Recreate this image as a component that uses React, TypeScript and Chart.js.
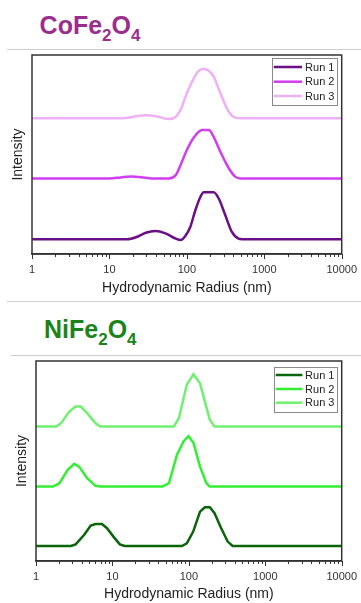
import React, { useEffect, useRef } from "react";
import { Chart, registerables } from "chart.js";

Chart.register(...registerables);

const FONT = "'Liberation Sans', Arial, Helvetica, sans-serif";

// ---- shared axis data ----
const runLabels = ["Run 1", "Run 2", "Run 3"];
const xTickLabels = [1, 10, 100, 1000, 10000];
const xTickValues = [
  1, 2, 3, 4, 5, 6, 7, 8, 9,
  10, 20, 30, 40, 50, 60, 70, 80, 90,
  100, 200, 300, 400, 500, 600, 700, 800, 900,
  1000, 2000, 3000, 4000, 5000, 6000, 7000, 8000, 9000,
  10000,
];

// ---- CoFe2O4 ----
const coColors = ["#6b0f85", "#d23cf2", "#efb0f7"];
const coRun1Radius = [1, 17, 22, 29.5, 39, 53, 72, 83, 96, 111, 129, 150, 165, 222, 257, 313, 380, 464, 520, 10000];
const coRun1Intensity = [7.4, 7.4, 8.4, 10.7, 11.6, 10.4, 7.7, 7.0, 9.2, 13.7, 22.1, 28.8, 31.0, 31.0, 28.0, 19.6, 11.2, 7.7, 7.4, 7.4];
const coRun2Radius = [1, 10, 14, 19, 26, 35, 59, 72, 83, 100, 123, 157, 192, 222, 271, 348, 421, 490, 10000];
const coRun2Intensity = [38.0, 38.0, 38.5, 38.9, 38.6, 38.0, 38.0, 39.7, 44.7, 52.3, 58.6, 62.3, 62.3, 58.9, 51.4, 43.1, 38.9, 38.0, 38.0];
const coRun3Radius = [1, 15, 20, 29.5, 40, 59, 72, 83, 100, 123, 143, 165, 192, 222, 271, 348, 421, 490, 10000];
const coRun3Intensity = [68.2, 68.2, 68.9, 69.7, 69.2, 67.8, 69.0, 72.4, 80.8, 88.3, 92.1, 93.0, 92.1, 89.1, 80.8, 71.5, 68.5, 68.2, 68.2];

// ---- NiFe2O4 ----
const niColors = ["#0a640a", "#33ee33", "#70f070"];
const niRun1Radius = [1, 2.87, 3.3, 4.25, 5.2, 6.0, 7.3, 8.5, 10.3, 12.5, 14.5, 81, 94, 114, 140, 162, 188, 217, 265, 322, 374, 10000];
const niRun1Intensity = [7.5, 7.5, 8.3, 13, 17.7, 18.5, 18.5, 16.4, 12.2, 8.3, 7.5, 7.5, 8.8, 14.7, 24.7, 26.9, 26.9, 23.9, 16.4, 9.7, 7.5, 7.5];
const niRun2Radius = [1, 1.67, 2.03, 2.6, 3.16, 3.66, 4.68, 6.0, 6.95, 45, 55, 70, 85.5, 99, 115, 140, 170, 187, 10000];
const niRun2Intensity = [37.2, 37.2, 38.9, 45.6, 48.6, 47.2, 41.4, 37.6, 37.2, 37.2, 38.9, 53.2, 59.9, 62.4, 59.1, 47.2, 38.9, 37.2, 37.2];
const niRun3Radius = [1, 1.84, 2.13, 2.73, 3.3, 3.85, 4.68, 6.0, 6.95, 63.6, 74, 94, 115, 140, 162, 188, 217, 10000];
const niRun3Intensity = [67.2, 67.2, 68.9, 74.7, 77.2, 77.2, 73.9, 68.9, 67.2, 67.2, 71.4, 88.1, 93.4, 88.9, 79.7, 70.7, 67.2, 67.2];

const toPoints = (xs: number[], ys: number[]) => xs.map((x, i) => ({ x, y: ys[i] }));

type LegendGeom = {
  boxLeft: number; boxRight: number; boxTop: number; boxBottom: number;
  rows: number[]; lineStart: number; lineEnd: number; textX: number;
};

function makeBoxPlugin() {
  return {
    id: "plotBox",
    afterDraw(chart: any) {
      const { ctx, chartArea: a } = chart;
      const xs = chart.scales.x;
      ctx.save();
      // tick marks below the axis, positioned by the log scale
      ctx.strokeStyle = "#333333";
      ctx.lineWidth = 1;
      xTickValues.forEach((v) => {
        const px = Math.round(xs.getPixelForValue(v)) + 0.5;
        const len = xTickLabels.includes(v) ? 5 : 3;
        ctx.beginPath();
        ctx.moveTo(px, a.bottom);
        ctx.lineTo(px, a.bottom + len);
        ctx.stroke();
      });
      ctx.lineWidth = 1.5;
      ctx.strokeRect(a.left, a.top, a.right - a.left, a.bottom - a.top);
      ctx.restore();
    },
  };
}

function makeLegendPlugin(g: LegendGeom) {
  return {
    id: "insideLegend",
    afterDraw(chart: any) {
      const { ctx, chartArea: a } = chart;
      ctx.save();
      ctx.fillStyle = "#ffffff";
      const l = a.right + g.boxLeft, r = a.right + g.boxRight;
      const t = a.top + g.boxTop, b = a.top + g.boxBottom;
      ctx.fillRect(l, t, r - l, b - t);
      ctx.strokeStyle = "#8a8a8a";
      ctx.lineWidth = 1;
      ctx.strokeRect(Math.round(l) + 0.5, Math.round(t) + 0.5, Math.round(r - l), Math.round(b - t));
      chart.data.datasets.forEach((ds: any, i: number) => {
        const y = a.top + g.rows[i];
        ctx.strokeStyle = ds.borderColor;
        ctx.lineWidth = 2.5;
        ctx.beginPath();
        ctx.moveTo(a.right + g.lineStart, y);
        ctx.lineTo(a.right + g.lineEnd, y);
        ctx.stroke();
        ctx.fillStyle = "#222222";
        ctx.font = `11px ${FONT}`;
        ctx.textBaseline = "middle";
        ctx.textAlign = "left";
        ctx.fillText(ds.label, a.right + g.textX, y + 0.5);
      });
      ctx.restore();
    },
  };
}

type ChartProps = {
  series: { x: number[]; y: number[] }[];
  colors: string[];
  top: number;
  height: number;
  padTop: number;
  padRight: number;
  yAxisWidth: number;
  xAxisHeight: number;
  yTitlePad: number;
  xTitlePad: number;
  smooth: boolean;
  legend: LegendGeom;
};

function DlsChart(p: ChartProps) {
  const ref = useRef<HTMLCanvasElement>(null);
  useEffect(() => {
    if (!ref.current) return;
    const chart = new Chart(ref.current, {
      type: "line",
      data: {
        datasets: p.series.map((s, i) => ({
          label: runLabels[i],
          data: toPoints(s.x, s.y),
          borderColor: p.colors[i],
          backgroundColor: p.colors[i],
          borderWidth: 2.5,
          pointRadius: 0,
          fill: false,
          tension: 0,
          cubicInterpolationMode: p.smooth ? "monotone" : "default",
        })),
      } as any,
      options: {
        responsive: false,
        animation: false,
        devicePixelRatio: 1,
        layout: { padding: { top: p.padTop, right: p.padRight, left: 0, bottom: 0 } },
        plugins: { legend: { display: false }, tooltip: { enabled: false } },
        scales: {
          x: {
            type: "logarithmic",
            min: 1,
            max: 10000,
            afterBuildTicks: (axis: any) => {
              axis.ticks = xTickValues.map((v) => ({ value: v, major: xTickLabels.includes(v) }));
            },
            afterFit: (scale: any) => {
              scale.height = p.xAxisHeight;
            },
            ticks: {
              autoSkip: false,
              maxRotation: 0,
              minRotation: 0,
              padding: 4,
              color: "#333333",
              font: { size: 11, family: FONT },
              callback: (v: any) => (xTickLabels.includes(Number(v)) ? String(v) : ""),
            },
            grid: {
              drawOnChartArea: false,
              drawTicks: true,
              tickLength: 5,
              tickColor: "rgba(0,0,0,0)",
            },
            border: { display: true, color: "#333333", width: 1.5 },
            title: {
              display: true,
              text: "Hydrodynamic Radius (nm)",
              color: "#222222",
              font: { size: 14, family: FONT },
              padding: { top: 0, bottom: p.xTitlePad },
            },
          },
          y: {
            type: "linear",
            min: 0,
            max: 100,
            afterFit: (scale: any) => {
              scale.width = p.yAxisWidth;
            },
            ticks: { display: false },
            grid: { display: false, drawTicks: false },
            border: { display: false },
            title: {
              display: true,
              text: "Intensity",
              color: "#222222",
              font: { size: 14, family: FONT },
              padding: { top: p.yTitlePad, bottom: 0 },
            },
          },
        },
      } as any,
      plugins: [makeBoxPlugin(), makeLegendPlugin(p.legend)],
    });
    return () => chart.destroy();
  }, []);
  return (
    <canvas
      ref={ref}
      width={361}
      height={p.height}
      style={{ position: "absolute", left: 0, top: p.top, width: 361, height: p.height }}
    />
  );
}

function Heading({ base, left, top, color }: { base: string; left: number; top: number; color: string }) {
  const sub = { fontSize: 17, verticalAlign: "-6.5px", lineHeight: 0 } as React.CSSProperties;
  const parts = base.split(/(\d)/);
  return (
    <div
      style={{
        position: "absolute",
        left,
        top,
        fontFamily: FONT,
        fontWeight: "bold",
        fontSize: 25,
        lineHeight: "25px",
        color,
        whiteSpace: "nowrap",
      }}
    >
      {parts.map((s, i) => (/\d/.test(s) ? <span key={i} style={sub}>{s}</span> : <span key={i}>{s}</span>))}
    </div>
  );
}

const rule = (top: number, left: number) => (
  <div style={{ position: "absolute", top, left, width: 361 - left, height: 1, background: "#cfcfcf" }} />
);

export default function App() {
  return (
    <div
      style={{
        position: "absolute",
        left: 0,
        top: 0,
        width: 361,
        height: 603,
        background: "#ffffff",
        overflow: "hidden",
      }}
    >
      <Heading base="CoFe2O4" left={39.6} top={12.8} color="#9b2d8f" />
      {rule(49, 7)}
      <DlsChart
        series={[
          { x: coRun1Radius, y: coRun1Intensity },
          { x: coRun2Radius, y: coRun2Intensity },
          { x: coRun3Radius, y: coRun3Intensity },
        ]}
        colors={coColors}
        top={50}
        height={250}
        padTop={5}
        padRight={17}
        yAxisWidth={32}
        xAxisHeight={46}
        yTitlePad={9.6}
        xTitlePad={3}
        smooth={true}
        legend={{
          boxLeft: -70, boxRight: -5.3, boxTop: 2.7, boxBottom: 49.3,
          rows: [12, 26.7, 41], lineStart: -68, lineEnd: -39.7, textX: -36.6,
        }}
      />
      {rule(301, 7)}
      <Heading base="NiFe2O4" left={44} top={317.1} color="#1a841a" />
      {rule(355, 11)}
      <DlsChart
        series={[
          { x: niRun1Radius, y: niRun1Intensity },
          { x: niRun2Radius, y: niRun2Intensity },
          { x: niRun3Radius, y: niRun3Intensity },
        ]}
        colors={niColors}
        top={358}
        height={245}
        padTop={3}
        padRight={13}
        yAxisWidth={36}
        xAxisHeight={42}
        yTitlePad={13.3}
        xTitlePad={0}
        smooth={false}
        legend={{
          boxLeft: -67.3, boxRight: -4.7, boxTop: 5.7, boxBottom: 50.7,
          rows: [14, 28, 41.7], lineStart: -66, lineEnd: -39.3, textX: -36.6,
        }}
      />
    </div>
  );
}
